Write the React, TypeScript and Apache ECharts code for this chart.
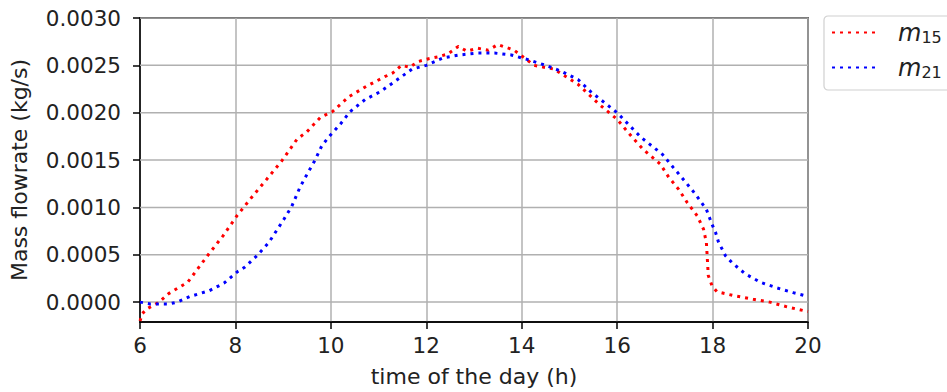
import React, { useEffect, useRef } from "react";
import * as echarts from "echarts";

const redHours = [6.0, 6.05, 6.15, 6.4, 6.6, 7.0, 7.43, 7.74, 8.03, 8.33, 8.66, 8.97, 9.29, 9.5, 9.78, 10.03, 10.38, 10.75, 11.13, 11.3, 11.48, 11.65, 11.83, 12.05, 12.25, 12.45, 12.67, 12.85, 13.08, 13.3, 13.5, 13.84, 14.05, 14.26, 14.68, 15.18, 15.62, 16.0, 16.3, 16.55, 16.9, 17.08, 17.29, 17.47, 17.68, 17.81, 17.87, 17.89, 17.91, 17.99, 18.09, 18.43, 18.85, 19.2, 19.56, 20.0];
const redValues = [-0.0002, -0.00012, -0.00007, 0.0, 0.00009, 0.00021, 0.0005, 0.0007, 0.00091, 0.0011, 0.0013, 0.00149, 0.00172, 0.0018, 0.00195, 0.00201, 0.00217, 0.00228, 0.00238, 0.00242, 0.0025, 0.00248, 0.00254, 0.00257, 0.00259, 0.00262, 0.0027, 0.00265, 0.00268, 0.00266, 0.00272, 0.00266, 0.00258, 0.0025, 0.00246, 0.0023, 0.00209, 0.00193, 0.00175, 0.00161, 0.00146, 0.00132, 0.00119, 0.00105, 0.00091, 0.00077, 0.00063, 0.00046, 0.00028, 0.00017, 0.00011, 0.00007, 0.00003, 0.0, -0.00005, -0.0001];

const blueHours = [6.0, 6.22, 6.6, 6.78, 7.05, 7.45, 7.76, 8.04, 8.2, 8.45, 8.7, 9.01, 9.18, 9.35, 9.5, 9.67, 9.81, 9.95, 10.2, 10.4, 10.72, 11.03, 11.34, 11.7, 12.0, 12.36, 12.7, 13.08, 13.43, 13.78, 14.13, 14.5, 14.82, 15.18, 15.45, 16.0, 16.5, 16.95, 17.18, 17.43, 17.64, 17.87, 17.99, 18.06, 18.12, 18.27, 18.4, 18.68, 19.0, 19.35, 19.69, 20.0];
const blueValues = [0.0, -0.00002, -0.00002, 0.0, 0.00006, 0.00012, 0.0002, 0.00032, 0.00037, 0.00049, 0.00063, 0.00087, 0.00101, 0.00121, 0.00135, 0.0015, 0.00165, 0.00174, 0.00188, 0.00201, 0.00214, 0.00222, 0.00233, 0.00246, 0.0025, 0.00258, 0.00261, 0.00263, 0.00263, 0.00261, 0.00256, 0.0025, 0.00244, 0.00235, 0.00222, 0.002, 0.00174, 0.00156, 0.00142, 0.00127, 0.00114, 0.00098, 0.00082, 0.00074, 0.00064, 0.00049, 0.00042, 0.0003, 0.00021, 0.00015, 0.0001, 0.00006];

const yTicks = [0, 0.0005, 0.001, 0.0015, 0.002, 0.0025, 0.003];
const xRange = [6, 20];
const seriesNames = ["m15", "m21"];
const seriesSubs: Record<string, string> = { m15: "15", m21: "21" };

const FONT = "DejaVu Sans";
const TICK_FS = 21.5;
const NAME_FS = 22;

export default function App() {
  const ref = useRef<HTMLDivElement>(null);
  useEffect(() => {
    if (!ref.current) return;
    const chart = echarts.init(ref.current, null, { renderer: "svg" });
    const lineType = [3, 5];
    const gridSeries = yTicks.map((v, k) => ({
      name: "hgrid" + k,
      type: "line",
      data: xRange.map((x) => [x, v]),
      z: 1,
      silent: true,
      symbol: "none",
      lineStyle: { color: "#b0b0b0", width: 1.5, type: "solid" },
      emphasis: { disabled: true },
    }));
    chart.setOption({
      animation: false,
      textStyle: { fontFamily: FONT },
      grid: {
        left: 137,
        right: 139,
        top: 18,
        bottom: 69,
        show: true,
        borderColor: "#000",
        borderWidth: 1.5,
        backgroundColor: "transparent",
      },
      legend: {
        data: seriesNames,
        left: 824,
        top: 16,
        orient: "vertical",
        itemWidth: 47,
        itemHeight: 14,
        itemGap: 7,
        padding: [1, 40, 10, 7],
        backgroundColor: "#fff",
        borderColor: "#d0d0d0",
        borderWidth: 1.2,
        borderRadius: 4,
        itemStyle: { opacity: 0 },
        formatter: (name: string) => `{i|m}{s|${seriesSubs[name]}}`,
        textStyle: {
          color: "#222",
          padding: [0, 0, 0, 14],
          rich: {
            i: { fontSize: 24, fontStyle: "italic", fontFamily: FONT, color: "#222", lineHeight: 25, verticalAlign: "bottom" },
            s: { fontSize: 16, fontFamily: FONT, color: "#222", lineHeight: 25, verticalAlign: "bottom", padding: [12, 0, 0, 0] },
          },
        },
      },
      xAxis: {
        type: "value",
        min: 6,
        max: 20,
        interval: 2,
        name: "time of the day (h)",
        nameLocation: "middle",
        nameGap: 43,
        nameTextStyle: { fontSize: NAME_FS, color: "#222", fontFamily: FONT },
        axisLine: { show: true, onZero: false, lineStyle: { color: "#000", width: 1.5 } },
        axisTick: { show: true, inside: false, length: 7, lineStyle: { color: "#000", width: 1.5 } },
        axisLabel: { fontSize: TICK_FS, color: "#222", margin: 12, fontFamily: FONT },
        splitLine: { show: true, lineStyle: { color: "#b0b0b0", width: 1.5 } },
      },
      yAxis: {
        type: "value",
        min: -0.00021,
        max: 0.003,
        name: "Mass flowrate (kg/s)",
        nameLocation: "middle",
        nameRotate: 90,
        nameGap: 110,
        nameTextStyle: { fontSize: NAME_FS, color: "#222", fontFamily: FONT },
        axisLine: { show: true, onZero: false, lineStyle: { color: "#000", width: 1.5 } },
        axisTick: { show: true, inside: false, length: 7, customValues: yTicks, lineStyle: { color: "#000", width: 1.5 } },
        axisLabel: {
          fontSize: TICK_FS,
          color: "#222",
          margin: 19,
          fontFamily: FONT,
          customValues: yTicks,
          formatter: (v: number) => v.toFixed(4),
        },
        splitLine: { show: false },
      },
      series: [
        ...gridSeries,
        {
          name: "m15",
          type: "line",
          z: 3,
          showSymbol: false,
          symbol: "none",
          data: redHours.map((h, i) => [h, redValues[i]]),
          lineStyle: { color: "#ff0000", width: 3, type: lineType },
          itemStyle: { color: "#ff0000" },
        },
        {
          name: "m21",
          type: "line",
          z: 3,
          showSymbol: false,
          symbol: "none",
          data: blueHours.map((h, i) => [h, blueValues[i]]),
          lineStyle: { color: "#0000ff", width: 3, type: lineType },
          itemStyle: { color: "#0000ff" },
        },
      ],
    });
    return () => chart.dispose();
  }, []);
  return <div ref={ref} style={{ position: "absolute", left: 0, top: 0, width: 947, height: 392 }} />;
}
